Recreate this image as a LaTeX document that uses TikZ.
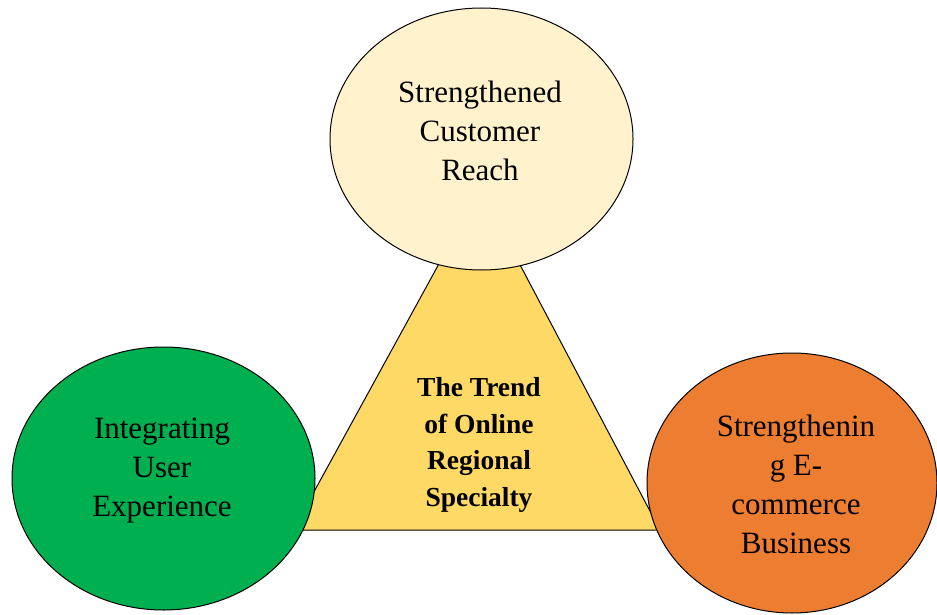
\documentclass[tikz,border=0pt]{standalone}
\usepackage{fontspec}
\setmainfont{Liberation Serif}
\usetikzlibrary{shapes.geometric}
\definecolor{paleyellow}{HTML}{FFF2CC}
\definecolor{triyellow}{HTML}{FFD966}
\definecolor{leafgreen}{HTML}{00B050}
\definecolor{warmorange}{HTML}{ED7D31}
\tikzset{
  bubble/.style={ellipse, draw=black, line width=1pt, inner sep=0pt},
  bubbletext/.style={align=center, font=\fontsize{31}{39}\selectfont, text=black, inner sep=0pt},
  trendtext/.style={align=center, font=\fontsize{27.5}{36.7}\selectfont\bfseries, text=black}
}
\begin{document}
\begin{tikzpicture}[x=1pt,y=-1pt]
\useasboundingbox (0,0) rectangle (937,615);
\coordinate (apex) at (480,189);
\coordinate (bl) at (293,530);
\coordinate (br) at (660,530);
\draw[fill=triyellow, line width=1pt, line join=miter] (apex) -- (bl) -- (br) -- cycle;
\node[trendtext] (trend) at (479,445) {The Trend\\of Online\\Regional\\Specialty};
\node[bubble, fill=paleyellow, minimum width=303pt, minimum height=262pt] (reach) at (481.5,139) {};
\node[bubbletext] (reachtext) at (480,131) {Strengthened\\Customer\\Reach};
\node[bubble, fill=leafgreen, minimum width=303pt, minimum height=263pt] (user) at (163.5,478.5) {};
\node[bubbletext] (usertext) at (162,471) {Integrating\\User\\Experience};
\node[bubble, fill=warmorange, minimum width=290pt, minimum height=260pt] (ecom) at (792,483) {};
\node[bubbletext] (ecomtext) at (796,484) {Strengthenin\\g E-\\commerce\\Business};
\end{tikzpicture}
\end{document}
